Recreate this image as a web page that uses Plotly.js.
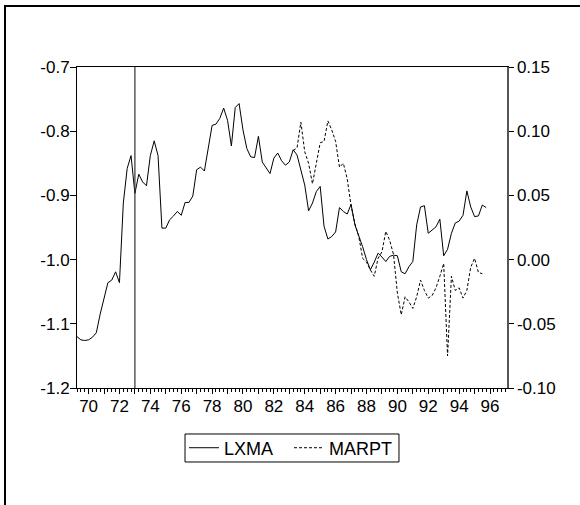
<!DOCTYPE html>
<html>
<head>
<meta charset="utf-8">
<script src="https://cdn.plot.ly/plotly-3.0.1.min.js"></script>
<style>
  html, body { margin: 0; padding: 0; background: #fff; }
  #wrap { position: relative; width: 580px; height: 505px; overflow: hidden; }
  #chart { position: absolute; left: 0; top: 0; width: 580px; height: 505px; }
  #frame { position: absolute; left: 4px; top: 5px; width: 590px; height: 520px;
           border-top: 2px solid #000; border-left: 2px solid #000; pointer-events: none; }
</style>
</head>
<body>
<div id="wrap">
  <div id="chart"></div>
  <div id="frame"></div>
</div>
<script>
// Quarterly series, LXMA from 1969Q2, MARPT from 1983Q2
const lxmaStart = { year: 1969, quarter: 2 };
const marptStart = { year: 1983, quarter: 2 };

const lxma = [
  -1.120, -1.125, -1.126, -1.125, -1.121, -1.114, -1.085, -1.058, -1.036, -1.032,
  -1.019, -1.036, -0.912, -0.858, -0.838, -0.897, -0.867, -0.879, -0.885, -0.838,
  -0.815, -0.838, -0.951, -0.951, -0.938, -0.932, -0.925, -0.931, -0.911, -0.911,
  -0.901, -0.860, -0.856, -0.862, -0.825, -0.791, -0.789, -0.780, -0.764, -0.783,
  -0.823, -0.763, -0.757, -0.798, -0.827, -0.840, -0.841, -0.808, -0.848, -0.858,
  -0.866, -0.842, -0.834, -0.846, -0.853, -0.848, -0.829, -0.837, -0.860, -0.884,
  -0.924, -0.912, -0.894, -0.886, -0.948, -0.968, -0.964, -0.957, -0.919, -0.925,
  -0.929, -0.914, -0.946, -0.962, -0.980, -1.000, -1.016, -1.004, -0.990, -0.996,
  -1.003, -0.995, -0.993, -0.994, -1.019, -1.022, -1.011, -1.003, -0.946, -0.918,
  -0.916, -0.959, -0.954, -0.949, -0.937, -0.994, -0.984, -0.959, -0.943, -0.940,
  -0.931, -0.893, -0.918, -0.933, -0.932, -0.915, -0.919
];

const marpt = [
   0.085,  0.087,  0.107,  0.084,  0.075,  0.059,  0.075,  0.091,  0.092,  0.108,
   0.101,  0.092,  0.072,  0.075,  0.063,  0.042,  0.028,  0.018,  0.001, -0.002,
  -0.008, -0.013,  0.001,  0.006,  0.022,  0.015,  0.004, -0.026, -0.043, -0.029,
  -0.033, -0.038, -0.029, -0.016, -0.024, -0.030, -0.028, -0.022, -0.013, -0.003,
  -0.075, -0.013, -0.024, -0.022, -0.030, -0.024, -0.006,  0.001, -0.010, -0.011
];

// Axis labels
const yearTicks = [70,71,72,73,74,75,76,77,78,79,80,81,82,83,84,85,86,87,88,89,90,91,92,93,94,95,96];
const yearLabels = ['70','','72','','74','','76','','78','','80','','82','','84','','86','','88','','90','','92','','94','','96'];
const leftTicks = [-1.2, -1.1, -1.0, -0.9, -0.8, -0.7];
const leftLabels = ['-1.2', '-1.1', '-1.0', '-0.9', '-0.8', '-0.7'];
const rightTicks = [-0.10, -0.05, 0.00, 0.05, 0.10, 0.15];
const rightLabels = ['-0.10', '-0.05', '0.00', '0.05', '0.10', '0.15'];

const breakYear = 73.0;   // 1973Q1 marker line

// decimal two-digit year for the i-th quarter after a start date
function quarterAxis(start, n) {
  const base = (start.year - 1900) + (start.quarter - 1) / 4;
  return Array.from({ length: n }, (_, i) => base + i / 4);
}

const font = { family: 'Liberation Sans, Arial, sans-serif', size: 17, color: '#000' };

const traces = [
  {
    x: quarterAxis(lxmaStart, lxma.length), y: lxma,
    name: 'LXMA', type: 'scatter', mode: 'lines',
    line: { color: '#000', width: 1 }, yaxis: 'y'
  },
  {
    x: quarterAxis(marptStart, marpt.length), y: marpt,
    name: 'MARPT', type: 'scatter', mode: 'lines',
    line: { color: '#000', width: 1, dash: '3px,2px' }, yaxis: 'y2'
  }
];

const layout = {
  width: 580, height: 505,
  margin: { l: 77, r: 73, t: 67, b: 117, pad: 0 },
  paper_bgcolor: '#fff', plot_bgcolor: '#fff',
  font: font,
  showlegend: true,
  legend: {
    orientation: 'h', x: 0.493, xanchor: 'center', y: -0.187, yanchor: 'middle',
    borderwidth: 0, bgcolor: 'rgba(0,0,0,0)',
    entrywidth: 60, entrywidthmode: 'pixels',
    font: { family: font.family, size: 18, color: '#000' }
  },
  xaxis: {
    range: [69.25, 97.1], showgrid: false, zeroline: false,
    showline: true, linecolor: '#000', linewidth: 1, mirror: true,
    tickmode: 'array', tickvals: yearTicks, ticktext: yearLabels,
    ticks: 'outside', ticklen: 5, tickcolor: '#000', tickwidth: 1,
    ticklabelstandoff: -2,
    tickfont: font,
    minor: { tickmode: 'linear', tick0: 69.25, dtick: 0.25, ticks: 'outside', ticklen: 3, tickcolor: '#000', tickwidth: 1, showgrid: false }
  },
  yaxis: {
    range: [-1.2, -0.7], showgrid: false, zeroline: false,
    showline: true, linecolor: '#000', linewidth: 1,
    tickmode: 'array', tickvals: leftTicks, ticktext: leftLabels,
    ticks: 'outside', ticklen: 6, tickcolor: '#000', tickwidth: 1,
    ticklabelstandoff: -3,
    tickfont: font
  },
  yaxis2: {
    range: [-0.10, 0.15], overlaying: 'y', side: 'right',
    showgrid: false, zeroline: false,
    showline: true, linecolor: '#555', linewidth: 1.5,
    tickmode: 'array', tickvals: rightTicks, ticktext: rightLabels,
    ticks: 'outside', ticklen: 5, tickcolor: '#000', tickwidth: 1,
    tickfont: font
  },
  shapes: [
    { type: 'line', xref: 'x', yref: 'paper', x0: breakYear, x1: breakYear, y0: 0, y1: 1,
      line: { color: '#333', width: 1.2 } },
    // legend frame
    { type: 'rect', xref: 'paper', yref: 'paper', x0: 0.2512, x1: 0.7488, y0: -0.1433, y1: -0.2305,
      line: { color: '#000', width: 1 }, fillcolor: 'rgba(0,0,0,0)' }
  ]
};

Plotly.newPlot('chart', traces, layout, { staticPlot: true, displayModeBar: false });
</script>
</body>
</html>
